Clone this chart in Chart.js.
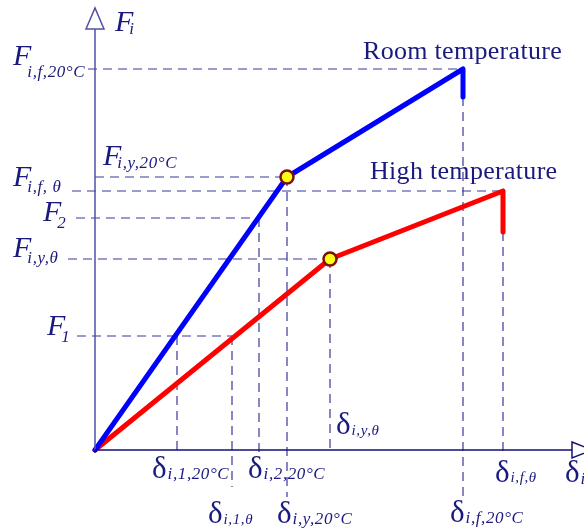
<!DOCTYPE html>
<html>
<head>
<meta charset="utf-8">
<script src="https://cdn.jsdelivr.net/npm/chart.js@4.4.0/dist/chart.umd.min.js"></script>
<style>
  html, body { margin: 0; padding: 0; background: #fff; }
  #wrap { width: 584px; height: 528px; position: relative; }
</style>
</head>
<body>
<div id="wrap"><canvas id="chart"></canvas></div>
<script>
// force-displacement curves (units, origin at the axes corner)
const roomDisp = [0, 192, 368, 368];
const roomForce = [0, 273, 381, 353];
const highDisp = [0, 235, 408, 408];
const highForce = [0, 191, 259, 218];

// yield points (marked with circles)
const yieldDisp = [192, 235];
const yieldForce = [273, 191];

// horizontal guide lines: force level, from x, to x
const hGuideForce = [381, 273, 259, 232, 191, 114];
const hGuideFrom = [-7, 0, -23, -19, -27, -18];
const hGuideTo = [368, 192, 408, 164, 235, 137];

// vertical guide lines: displacement, from y, to y
const vGuideDisp = [82, 137, 164, 192, 235, 368, 408];
const vGuideTop = [114, 114, 232, 273, 191, 353, 218];
const vGuideBottom = [-3, -37, -3, -47, 0, -48, -3];

// axis labels: [main, subscript, x, y, subscript drop]
const forceLabels = [
  ['F', 'i,f,20°C', -82, 385, 12],
  ['F', 'i,y,20°C', 8, 285, 3],
  ['F', 'i,f, θ', -82, 264, 6],
  ['F', '2', -52, 229, 7],
  ['F', 'i,y,θ', -82, 193, 6],
  ['F', '1', -48, 115, 7],
  ['F', 'i', 20, 419, 3]
];
const dispLabels = [
  ['δ', 'i,1,20°C', 57, -28, 1],
  ['δ', 'i,1,θ', 113, -73, 1],
  ['δ', 'i,2,20°C', 153, -28, 1],
  ['δ', 'i,y,20°C', 182, -73, 1],
  ['δ', 'i,y,θ', 241, 16, 1],
  ['δ', 'i,f,θ', 400, -32, 0],
  ['δ', 'i,f,20°C', 355, -72, 1],
  ['δ', 'i', 470, -32, 2]
];
const curveNames = ['Room temperature', 'High temperature'];
const curveNameX = [268, 275];
const curveNameY = [391, 271];

const ink = '#1a1a7e';
const dashInk = '#38389a';

function pts(xs, ys) { return xs.map((x, i) => ({ x: x, y: ys[i] })); }

// order: higher numbers are drawn first (underneath)
const datasets = [];
hGuideForce.forEach(function (f, i) {
  datasets.push({ data: [{ x: hGuideFrom[i], y: f }, { x: hGuideTo[i], y: f }], order: 10,
    borderColor: dashInk, borderWidth: 1.2, borderDash: [9, 6], pointRadius: 0, showLine: true });
});
vGuideDisp.forEach(function (d, i) {
  datasets.push({ data: [{ x: d, y: vGuideTop[i] }, { x: d, y: vGuideBottom[i] }], order: 10,
    borderColor: dashInk, borderWidth: 1.2, borderDash: [9, 6], pointRadius: 0, showLine: true });
});
datasets.push({ data: pts(roomDisp, roomForce), borderColor: '#0000ff', borderWidth: 5, order: 5,
  pointRadius: 0, showLine: true, borderCapStyle: 'round', borderJoinStyle: 'round' });
datasets.push({ data: pts(highDisp, highForce), borderColor: '#ff0000', borderWidth: 5, order: 5,
  pointRadius: 0, showLine: true, borderCapStyle: 'round', borderJoinStyle: 'round' });
datasets.push({ data: pts(yieldDisp, yieldForce), showLine: false, pointRadius: 6.5, order: 0,
  pointBackgroundColor: '#ffff10', pointBorderColor: '#7a1010', pointBorderWidth: 2.5 });

function drawSub(ctx, main, sub, x, y, drop) {
  const isF = main === 'F';
  ctx.textAlign = 'left';
  ctx.textBaseline = 'alphabetic';
  ctx.letterSpacing = '0px';
  ctx.font = isF ? 'italic 30px "Liberation Serif"' : '31px "Liberation Serif"';
  const w1 = ctx.measureText(main).width;
  ctx.fillText(main, x, y);
  ctx.font = sub.length === 5 && !isF ? 'italic 15px "Liberation Serif"' : 'italic 17px "Liberation Serif"';
  ctx.letterSpacing = '0.6px';
  ctx.fillText(sub, x + w1 + (isF ? -4 : 1), y + drop);
  ctx.letterSpacing = '0px';
}

const annotate = {
  id: 'annotate',
  afterDatasetsDraw(chart) {
    const ctx = chart.ctx;
    const xs = chart.scales.x, ys = chart.scales.y;
    const px = v => xs.getPixelForValue(v), py = v => ys.getPixelForValue(v);
    ctx.save();
    // axes with hollow arrows
    ctx.strokeStyle = '#5050a8';
    ctx.lineWidth = 1.5;
    ctx.beginPath();
    ctx.moveTo(px(0), py(0)); ctx.lineTo(px(0), py(421));
    ctx.moveTo(px(-9), py(421)); ctx.lineTo(px(0), py(442)); ctx.lineTo(px(9), py(421)); ctx.closePath();
    ctx.stroke();
    ctx.strokeStyle = '#101078';
    ctx.beginPath();
    ctx.moveTo(px(0), py(0)); ctx.lineTo(px(477), py(0));
    ctx.moveTo(px(477), py(8)); ctx.lineTo(px(497), py(0)); ctx.lineTo(px(477), py(-8)); ctx.closePath();
    ctx.stroke();
    // labels
    ctx.fillStyle = ink;
    forceLabels.concat(dispLabels).forEach(function (l) {
      drawSub(ctx, l[0], l[1], px(l[2]), py(l[3]), l[4]);
    });
    ctx.font = '26px "Liberation Serif"';
    ctx.letterSpacing = '0.3px';
    curveNames.forEach(function (n, i) {
      ctx.fillText(n, px(curveNameX[i]), py(curveNameY[i]));
    });
    ctx.restore();
  }
};

new Chart(document.getElementById('chart'), {
  type: 'scatter',
  data: { datasets: datasets },
  options: {
    responsive: true,
    maintainAspectRatio: false,
    animation: false,
    layout: { padding: 0, autoPadding: false },
    plugins: { legend: { display: false }, tooltip: { enabled: false } },
    scales: {
      x: { type: 'linear', display: false, min: -95, max: 489 },
      y: { type: 'linear', display: false, min: -78, max: 450 }
    }
  },
  plugins: [annotate]
});
</script>
</body>
</html>
